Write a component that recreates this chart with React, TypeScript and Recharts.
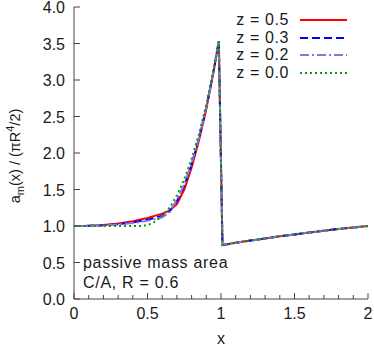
import { Line, LineChart, XAxis, YAxis } from "recharts";

const X_MAJOR = [0, 0.5, 1, 1.5, 2];
const X_MINOR = [0, 0.1, 0.2, 0.3, 0.4, 0.5, 0.6, 0.7, 0.8, 0.9, 1, 1.1, 1.2, 1.3, 1.4, 1.5, 1.6, 1.7, 1.8, 1.9, 2];
const Y_TICKS = [0, 0.5, 1, 1.5, 2, 2.5, 3, 3.5, 4];

// shared tail after the jump at x ~ 1
const tailX = [0.985, 1.01, 1.1, 1.2, 1.3, 1.4, 1.5, 1.6, 1.7, 1.8, 1.9, 2.0];
const tailY = [3.53, 0.74, 0.77, 0.8, 0.83, 0.86, 0.885, 0.91, 0.935, 0.96, 0.98, 1.0];

const riseX = [0, 0.1, 0.2, 0.3, 0.4, 0.5, 0.6, 0.65, 0.7, 0.75, 0.8, 0.85, 0.9, 0.95];
const z05Y = [1.0, 1.005, 1.015, 1.035, 1.065, 1.11, 1.17, 1.21, 1.3, 1.5, 1.8, 2.17, 2.6, 3.12];
const z03Y = [1.0, 1.003, 1.01, 1.025, 1.05, 1.085, 1.14, 1.2, 1.34, 1.55, 1.84, 2.2, 2.62, 3.13];
const z02Y = [1.0, 1.002, 1.008, 1.02, 1.04, 1.07, 1.12, 1.19, 1.36, 1.57, 1.86, 2.2, 2.62, 3.13];

const z00X = [0, 0.1, 0.2, 0.3, 0.4, 0.45, 0.5, 0.55, 0.6, 0.65, 0.7, 0.75, 0.8, 0.85, 0.9, 0.95];
const z00Y = [1.0, 1.0, 1.0, 1.0, 1.0, 1.0, 1.01, 1.06, 1.14, 1.25, 1.42, 1.64, 1.92, 2.26, 2.66, 3.15];

function toPoints(xs: number[], ys: number[]) {
  const pts = xs.map((x, i) => ({ x, y: ys[i] }));
  return pts.concat(tailX.map((x, i) => ({ x, y: tailY[i] })));
}

const series = [
  { name: "z = 0.5", color: "#ff0000", dash: undefined, data: toPoints(riseX, z05Y) },
  { name: "z = 0.3", color: "#0000ff", dash: "8 4", data: toPoints(riseX, z03Y) },
  { name: "z = 0.2", color: "#9370db", dash: "9 3 2 3", data: toPoints(riseX, z02Y) },
  { name: "z = 0.0", color: "#00a000", dash: "2 3", data: toPoints(z00X, z00Y) },
];

const FONT = "'Liberation Sans', Arial, sans-serif";
const FRAME = "#444";
const TEXT = "#1a1a1a";

function isMajorX(v: number) {
  return X_MAJOR.some((m) => Math.abs(m - v) < 1e-6);
}

const BottomTick = (props: any) => {
  const { x, y, payload } = props;
  const major = isMajorX(payload.value);
  return (
    <g>
      <line x1={x} x2={x} y1={y} y2={y - (major ? 6 : 4)} stroke={FRAME} />
      {major && (
        <text x={x} y={y + 20} textAnchor="middle" fontSize={16} fontFamily={FONT} fill={TEXT}>
          {String(payload.value)}
        </text>
      )}
    </g>
  );
};

const TopTick = (props: any) => {
  const { x, y, payload } = props;
  const major = isMajorX(payload.value);
  return <line x1={x} x2={x} y1={y} y2={y + (major ? 6 : 4)} stroke={FRAME} />;
};

const LeftTick = (props: any) => {
  const { x, y, payload } = props;
  return (
    <g>
      <line x1={x} x2={x + 6} y1={y} y2={y} stroke={FRAME} />
      <text x={x - 9} y={y + 6} textAnchor="end" fontSize={16} fontFamily={FONT} fill={TEXT}>
        {payload.value.toFixed(1)}
      </text>
    </g>
  );
};

const RightTick = (props: any) => {
  const { x, y } = props;
  return <line x1={x} x2={x - 6} y1={y} y2={y} stroke={FRAME} />;
};

export default function App() {
  return (
    <div style={{ position: "absolute", left: 0, top: 0, width: 374, height: 349, background: "#fff", fontFamily: FONT }}>
      <LineChart width={374} height={349} margin={{ top: 7, right: 6, left: 0, bottom: 0 }}>
        <XAxis
          dataKey="x"
          type="number"
          domain={[0, 2]}
          ticks={X_MINOR}
          interval={0}
          allowDataOverflow
          height={50}
          tickSize={0}
          tickMargin={0}
          tickLine={false}
          axisLine={{ stroke: FRAME }}
          tick={<BottomTick />}
        />
        <XAxis
          xAxisId="top"
          orientation="top"
          dataKey="x"
          type="number"
          domain={[0, 2]}
          ticks={X_MINOR}
          interval={0}
          allowDataOverflow
          height={0}
          tickSize={0}
          tickMargin={0}
          tickLine={false}
          axisLine={{ stroke: FRAME }}
          tick={<TopTick />}
        />
        <YAxis
          type="number"
          domain={[0, 4]}
          ticks={Y_TICKS}
          interval={0}
          allowDataOverflow
          width={74}
          tickSize={0}
          tickMargin={0}
          tickLine={false}
          axisLine={{ stroke: FRAME }}
          tick={<LeftTick />}
        />
        <YAxis
          yAxisId="right"
          orientation="right"
          type="number"
          domain={[0, 4]}
          ticks={Y_TICKS}
          interval={0}
          allowDataOverflow
          width={0}
          tickSize={0}
          tickMargin={0}
          tickLine={false}
          axisLine={{ stroke: FRAME }}
          tick={<RightTick />}
        />
        {series.map((s) => (
          <Line
            key={s.name}
            data={s.data}
            dataKey="y"
            name={s.name}
            type="linear"
            stroke={s.color}
            strokeWidth={2}
            strokeDasharray={s.dash}
            dot={false}
            activeDot={false}
            isAnimationActive={false}
          />
        ))}
      </LineChart>

      {/* y axis title */}
      <svg style={{ position: "absolute", left: 0, top: 0 }} width={40} height={349}>
        <text
          transform="translate(20,156) rotate(-90)"
          textAnchor="middle"
          fontSize={14.5}
          fontFamily={FONT}
          fill={TEXT}
        >
          a<tspan fontSize={11} dy={4}>m</tspan>
          <tspan dy={-4}>(x) / (πR</tspan>
          <tspan fontSize={11} dy={-6}>4</tspan>
          <tspan dy={6}>/2)</tspan>
        </text>
      </svg>

      {/* x axis title */}
      <div style={{ position: "absolute", left: 0, width: 442, top: 330, textAlign: "center", fontSize: 16, color: TEXT, lineHeight: "18px" }}>
        x
      </div>

      {/* legend */}
      <div style={{ position: "absolute", left: 196, top: 11 }}>
        {series.map((s) => (
          <div key={s.name} style={{ display: "flex", alignItems: "center", height: 17.7 }}>
            <span style={{ width: 93, textAlign: "right", fontSize: 16, letterSpacing: 0.6, color: TEXT }}>{s.name}</span>
            <svg width={60} height={10} style={{ marginLeft: 11 }}>
              <line x1={0} x2={47} y1={5} y2={5} stroke={s.color} strokeWidth={2} strokeDasharray={s.dash} />
            </svg>
          </div>
        ))}
      </div>

      {/* annotation */}
      <div style={{ position: "absolute", left: 83, top: 253, fontSize: 16, letterSpacing: 0.7, color: TEXT, lineHeight: "20px" }}>
        <div>passive mass area</div>
        <div>C/A, R = 0.6</div>
      </div>
    </div>
  );
}
